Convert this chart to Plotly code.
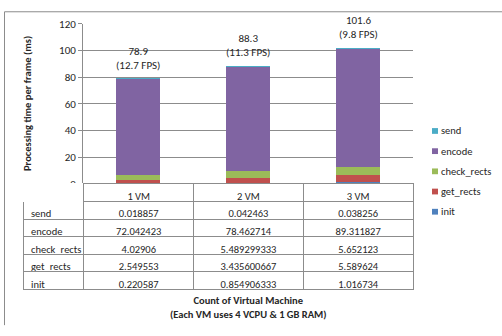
import plotly.graph_objects as go

# Per-frame processing time (ms) broken down by stage, per VM count
categories = ["1 VM", "2 VM", "3 VM"]
init = [0.220587, 0.854906333, 1.016734]
get_rects = [2.549553, 3.435600667, 5.589624]
check_rects = [4.02906, 5.489299333, 5.652123]
encode = [72.042423, 78.462714, 89.311827]
send = [0.018857, 0.042463, 0.038256]

series_names = ["init", "get_rects", "check_rects", "encode", "send"]
series_values = [init, get_rects, check_rects, encode, send]
series_colors = ["#4F81BD", "#C0504D", "#9BBB59", "#8064A2", "#4BACC6"]

W, H = 502, 336
FONT = "Carlito, Lato, sans-serif"
TXT = "#262626"
GRID = "#8c8c8c"


def px_x(v):
    return v / W


def px_y(v):
    return (H - v) / H


fig = go.Figure()

for name, vals, col in zip(series_names, series_values, series_colors):
    fig.add_trace(go.Bar(
        x=categories, y=vals, name=name,
        marker=dict(color=col, line=dict(width=0)),
        showlegend=False, hoverinfo="skip",
    ))

# Data table under the plot: header row carries the category labels
table_rows = list(reversed(series_names))
table_vals = list(reversed(series_values))
cell_cols = [table_rows] + [[str(v[i]) for v in table_vals] for i in range(len(categories))]

ROW_H = 17.6
fig.add_trace(go.Table(
    domain=dict(x=[px_x(23), px_x(413)], y=[px_y(330), px_y(185)]),
    columnwidth=[61, 110, 110, 110],
    header=dict(
        values=[""] + categories,
        height=ROW_H,
        align="center",
        fill=dict(color="white"),
        line=dict(color=["white", GRID, GRID, GRID], width=1),
        font=dict(family=FONT, size=10.5, color=TXT),
    ),
    cells=dict(
        values=cell_cols,
        height=ROW_H,
        align=["left", "center", "center", "center"],
        fill=dict(color="white"),
        line=dict(color=GRID, width=1),
        font=dict(family=FONT, size=10.5, color=TXT),
    ),
))

# Stack totals with the equivalent frame rate above each bar
totals = [sum(v[i] for v in series_values) for i in range(len(categories))]
annotations = []
for cat, tot in zip(categories, totals):
    annotations.append(dict(
        x=cat, y=tot, xref="x", yref="y", yanchor="bottom", yshift=5,
        text=f"{tot:.1f}<br>({1000 / tot:.1f} FPS)", showarrow=False,
        font=dict(family=FONT, size=11, color=TXT),
    ))

# Legend entries: top-to-bottom in stack order from top
legend_y = [130, 151, 172, 193, 214]
shapes = []
for name, col, ly in zip(reversed(series_names), reversed(series_colors), legend_y):
    shapes.append(dict(
        type="rect", xref="paper", yref="paper",
        x0=px_x(432), x1=px_x(438), y0=px_y(ly + 3), y1=px_y(ly - 3),
        fillcolor=col, line=dict(width=0),
    ))
    annotations.append(dict(
        x=px_x(439), y=px_y(ly), xref="paper", yref="paper",
        xanchor="left", yanchor="middle", showarrow=False,
        text=name, font=dict(family=FONT, size=10.5, color=TXT),
    ))

annotations.append(dict(
    x=px_x(27), y=px_y(102), xref="paper", yref="paper", textangle=-90,
    xanchor="center", yanchor="middle",
    text="<b>Processing time per frame (ms)</b>", showarrow=False,
    font=dict(family=FONT, size=10.5, color=TXT),
))
annotations.append(dict(
    x=px_x(248), y=px_y(314), xref="paper", yref="paper",
    xanchor="center", yanchor="middle",
    text="<b>Count of Virtual Machine</b><br><b>(Each VM uses 4 VCPU &amp; 1 GB RAM)</b>",
    showarrow=False, font=dict(family=FONT, size=10.5, color=TXT),
))

# Chart frame (top and left edges)
shapes += [
    dict(type="line", xref="paper", yref="paper",
         x0=px_x(4.5), x1=px_x(510), y0=px_y(6), y1=px_y(6),
         line=dict(color=GRID, width=1)),
    dict(type="line", xref="paper", yref="paper",
         x0=px_x(4.5), x1=px_x(4.5), y0=px_y(6), y1=px_y(332),
         line=dict(color=GRID, width=1)),
]

fig.update_layout(
    width=W, height=H,
    margin=dict(l=0, r=0, t=0, b=0),
    paper_bgcolor="white", plot_bgcolor="white",
    barmode="stack", bargap=0.6,
    showlegend=False,
    font=dict(family=FONT, size=10.5, color=TXT),
    xaxis=dict(
        domain=[px_x(83), px_x(413)], type="category", range=[-0.5, 2.5],
        showticklabels=False, showgrid=False, zeroline=False, showline=False,
    ),
    yaxis=dict(
        domain=[px_y(185), px_y(18.5)], range=[0, 120], dtick=20,
        showgrid=True, gridcolor=GRID, gridwidth=1, zeroline=False,
        showline=True, linecolor=GRID, linewidth=1,
        ticks="outside", ticklen=4, tickcolor=GRID,
        tickfont=dict(family=FONT, size=11, color=TXT),
    ),
    annotations=annotations,
    shapes=shapes,
)

fig.write_html("out.html")
